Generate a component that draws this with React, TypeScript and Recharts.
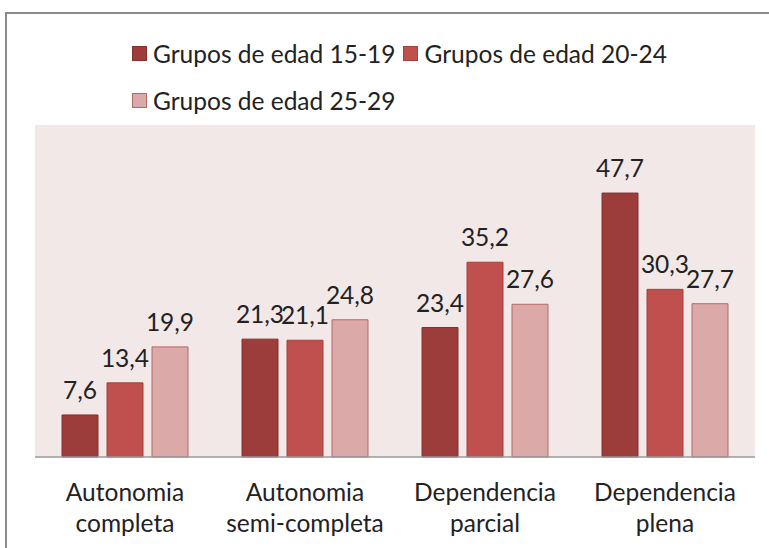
import { BarChart, Bar, XAxis, YAxis, CartesianGrid, LabelList } from "recharts";

const categories = ["Autonomia completa", "Autonomia semi-completa", "Dependencia parcial", "Dependencia plena"];
const edad1519 = [7.6, 21.3, 23.4, 47.7];
const edad2024 = [13.4, 21.1, 35.2, 30.3];
const edad2529 = [19.9, 24.8, 27.6, 27.7];
const seriesNames = ["Grupos de edad 15-19", "Grupos de edad 20-24", "Grupos de edad 25-29"];

const FONT = "Lato, 'Noto Sans', sans-serif";

const series = [
  { key: "a", name: seriesNames[0], fill: "#9C3D3B", stroke: "#83302F" },
  { key: "b", name: seriesNames[1], fill: "#C0504D", stroke: "#A4403E" },
  { key: "c", name: seriesNames[2], fill: "#DBA9A8", stroke: "#B56966" },
];

const chartData = categories.map((name, i) => ({
  name,
  a: edad1519[i],
  b: edad2024[i],
  c: edad2529[i],
}));

const fmt = (v: any) => String(v).replace(".", ",");

function CategoryTick(props: any) {
  const { x, y, payload } = props;
  const text: string = payload.value;
  const idx = text.indexOf(" ");
  const first = text.slice(0, idx);
  const second = text.slice(idx + 1);
  return (
    <text x={x} y={y} textAnchor="middle" fill="#222" fontSize={24.5} fontFamily={FONT}>
      <tspan x={x} dy={36}>{first}</tspan>
      <tspan x={x} dy={31}>{second}</tspan>
    </text>
  );
}

function LegendBox() {
  const item = (s: (typeof series)[number]) => (
    <div key={s.key} style={{ display: "flex", alignItems: "center", marginRight: 8, height: 30 }}>
      <span
        style={{
          display: "inline-block",
          width: 13,
          height: 13,
          background: s.fill,
          border: `1px solid ${s.stroke}`,
          marginRight: 6,
        }}
      />
      <span style={{ fontSize: 24.5, fontFamily: FONT, color: "#222", whiteSpace: "nowrap" }}>{s.name}</span>
    </div>
  );
  return (
    <div style={{ position: "absolute", left: 132, top: 38, display: "flex", flexWrap: "wrap", width: 560, rowGap: 17 }}>
      {series.map(item)}
    </div>
  );
}

export default function App() {
  return (
    <div style={{ position: "absolute", left: 0, top: 0, width: 769, height: 548, overflow: "hidden", background: "#fff" }}>
      <div
        style={{
          position: "absolute",
          left: 5,
          top: 12,
          width: 900,
          height: 700,
          border: "2px solid #8a8a8a",
          boxSizing: "border-box",
        }}
      />
      <div style={{ position: "absolute", left: 0, top: 0 }}>
        <BarChart
          width={769}
          height={548}
          data={chartData}
          margin={{ top: 125, right: 14, left: 35, bottom: 61 }}
          barCategoryGap="15%"
          barGap={9}
        >
          <CartesianGrid horizontal={false} vertical={false} fill="#F3E8E8" />
          <XAxis
            dataKey="name"
            tick={<CategoryTick />}
            tickLine={false}
            axisLine={{ stroke: "#9a9a9a", strokeWidth: 1.5 }}
            interval={0}
            height={30}
          />
          <YAxis hide domain={[0, 60]} />
          {series.map((s) => (
            <Bar key={s.key} dataKey={s.key} name={s.name} fill={s.fill} stroke={s.stroke} strokeWidth={1} isAnimationActive={false}>
              <LabelList
                dataKey={s.key}
                position="top"
                offset={16}
                formatter={fmt}
                fill="#222"
                fontSize={24.5}
                fontFamily={FONT}
              />
            </Bar>
          ))}
        </BarChart>
      </div>
      <LegendBox />
    </div>
  );
}
